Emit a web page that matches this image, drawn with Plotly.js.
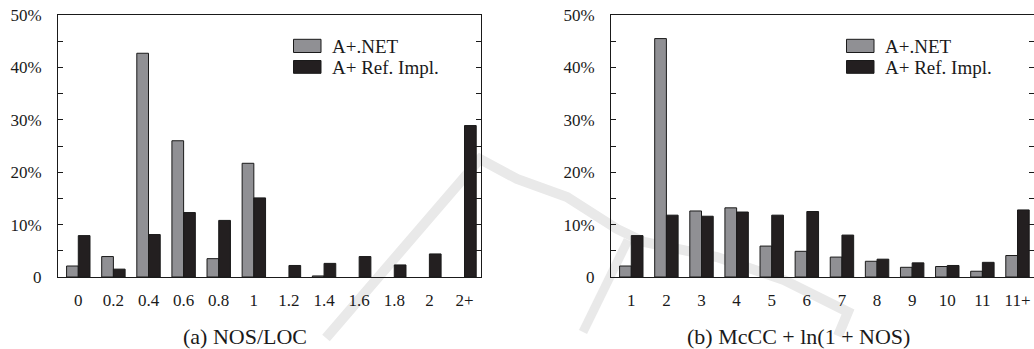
<!DOCTYPE html>
<html><head><meta charset="utf-8">
<script src="https://cdn.plot.ly/plotly-3.0.1.min.js"></script>
<style>html,body{margin:0;padding:0;overflow:hidden;background:#fff}</style>
</head><body><div id="chart" style="width:1034px;height:349px"></div>
<script>
// ---- data ----
const catsA = ['0','0.2','0.4','0.6','0.8','1','1.2','1.4','1.6','1.8','2','2+'];
const netA  = [2.1, 3.9, 42.7, 26.0, 3.5, 21.7, 0, 0.2, 0, 0, 0, 0];
const refA  = [7.9, 1.5, 8.1, 12.3, 10.8, 15.1, 2.2, 2.6, 3.9, 2.3, 4.4, 28.9];
const catsB = ['1','2','3','4','5','6','7','8','9','10','11','11+'];
const netB  = [2.1, 45.5, 12.6, 13.2, 5.9, 4.9, 3.8, 3.0, 1.85, 2.0, 1.1, 4.1];
const refB  = [7.9, 11.8, 11.6, 12.4, 11.8, 12.5, 8.0, 3.4, 2.7, 2.2, 2.8, 12.8];
const seriesNames = ['A+.NET', 'A+ Ref. Impl.'];
const yTickVals = [0, 10, 20, 30, 40, 50];
const yTickText = ['0', '10%', '20%', '30%', '40%', '50%'];
const yMinorVals = [5, 15, 25, 35, 45];
const subtitles = ['(a) NOS/LOC', '(b) McCC + ln(1 + NOS)'];

// ---- style ----
const W = 1034, H = 349;
const FONT = 'Liberation Serif, Times New Roman, serif';
const GRAY = '#909094', BLACK = '#231f20', LINE = '#1a1a1a';
const plotTop = 15, plotBot = 277, plotW = 423;
const lefts = [58, 611];
const xRange = [-0.578, 11.47];

const yDom = [(H - plotBot) / H, (H - plotTop) / H];

function barTrace(x, y, name, color, ax) {
  return {
    type: 'bar', x: x, y: y, name: name,
    xaxis: ax[0], yaxis: ax[1],
    marker: {color: color, line: {color: LINE, width: y.map(v => v > 0 ? 1 : 0)}},
    showlegend: false, hoverinfo: 'x+y'
  };
}

const data = [
  barTrace(catsA, netA, seriesNames[0], GRAY, ['x', 'y']),
  barTrace(catsA, refA, seriesNames[1], BLACK, ['x', 'y']),
  barTrace(catsB, netB, seriesNames[0], GRAY, ['x2', 'y2']),
  barTrace(catsB, refB, seriesNames[1], BLACK, ['x2', 'y2'])
];

function xAxis(i) {
  return {
    domain: [lefts[i] / W, Math.min(1, (lefts[i] + plotW) / W)],
    anchor: i === 0 ? 'y' : 'y2',
    type: 'category', range: xRange, fixedrange: true,
    showline: true, linecolor: LINE, linewidth: 1, mirror: true,
    ticks: '', showgrid: false, zeroline: false,
    tickfont: {family: FONT, size: 17, color: '#1a1a1a'},
    ticklabelstandoff: 8
  };
}
function yAxis(i) {
  return {
    domain: yDom, anchor: i === 0 ? 'x' : 'x2',
    range: [0, 50], fixedrange: true,
    showline: true, linecolor: LINE, linewidth: 1, mirror: 'ticks',
    ticks: 'inside', ticklen: 5, tickwidth: 1, tickcolor: LINE,
    tickvals: yTickVals, ticktext: yTickText,
    minor: {tickvals: yMinorVals, ticks: 'inside', ticklen: 5, tickwidth: 1, tickcolor: LINE, showgrid: false},
    showgrid: false, zeroline: false,
    tickfont: {family: FONT, size: 17, color: '#1a1a1a'},
    ticklabelstandoff: 12
  };
}

// faint background watermark strokes (decoration), pixel coords -> paper
const px = x => (x / W).toFixed(5), py = y => ((H - y) / H).toFixed(5);
const poly = pts => pts.map((p, i) => (i ? 'L' : 'M') + px(p[0]) + ',' + py(p[1])).join(' ');
const WM = '#e9e9e9';
const shapes = [
  {type: 'path', xref: 'paper', yref: 'paper', layer: 'below',
   path: poly([[326, 338], [480, 159], [517, 179], [567, 197], [617, 229], [644, 242],
               [717, 257], [784, 280], [848, 312], [838, 336]]),
   line: {color: WM, width: 10}},
  {type: 'path', xref: 'paper', yref: 'paper', layer: 'below',
   path: poly([[628, 240], [583, 332]]),
   line: {color: WM, width: 9}}
];
const annotations = [];

// legend (drawn per panel), positions in plot-local pixels
const panelRefs = [['x domain', 'y domain'], ['x2 domain', 'y2 domain']];
const fx = p => p / plotW;
const fy = p => (plotBot - plotTop - p) / (plotBot - plotTop);
[0, 1].forEach(i => {
  const [xr, yr] = panelRefs[i];
  const swX0 = 235.5, swX1 = 263;
  const rows = [[24.3, 37.5], [45.5, 58.3]];
  [GRAY, BLACK].forEach((c, k) => {
    shapes.push({type: 'rect', xref: xr, yref: yr,
      x0: fx(swX0), x1: fx(swX1), y0: fy(rows[k][1]), y1: fy(rows[k][0]),
      fillcolor: c, line: {color: LINE, width: 1}});
    annotations.push({xref: xr, yref: yr, x: fx(272), y: fy((rows[k][0] + rows[k][1]) / 2 + 0.5),
      xanchor: 'left', yanchor: 'middle', showarrow: false,
      text: seriesNames[k], font: {family: FONT, size: 19, color: '#1a1a1a'}});
  });
  annotations.push({xref: 'paper', yref: 'paper',
    x: i === 0 ? 244.5 / W : 798 / W, y: (H - 336) / H,
    xanchor: 'center', yanchor: 'middle', showarrow: false, borderpad: 0,
    text: subtitles[i], font: {family: FONT, size: 22, color: '#1a1a1a'}});
});

const layout = {
  width: W, height: H,
  margin: {l: 0, r: 0, t: 0, b: 0},
  paper_bgcolor: '#fff', plot_bgcolor: 'rgba(0,0,0,0)',
  barmode: 'group', bargap: 0.333, bargroupgap: 0,
  xaxis: xAxis(0), yaxis: yAxis(0), xaxis2: xAxis(1), yaxis2: yAxis(1),
  shapes: shapes, annotations: annotations,
  showlegend: false
};

Plotly.newPlot('chart', data, layout, {displayModeBar: false, staticPlot: true});
</script>
</body></html>
